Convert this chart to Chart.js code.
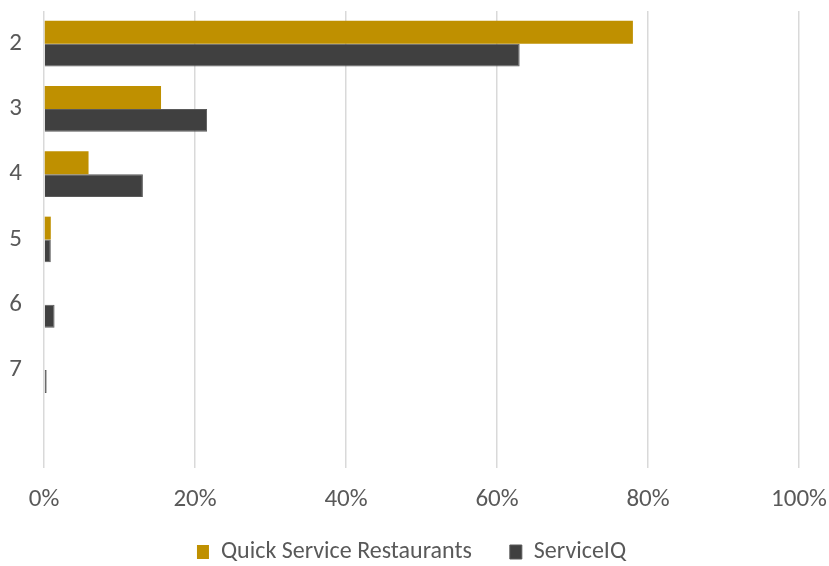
<!DOCTYPE html>
<html>
<head>
<meta charset="utf-8">
<script src="https://cdn.jsdelivr.net/npm/chart.js@4"></script>
<style>
  html, body { margin: 0; padding: 0; background: #fff; overflow: hidden; }
  canvas { display: block; }
</style>
</head>
<body>
<canvas id="sizeChart" width="829" height="566"></canvas>
<script>
// Share of responses by group size
const categories = ['2', '3', '4', '5', '6', '7', ''];
const qsrValues = [78, 15.5, 5.9, 0.9, 0, 0, null];
const serviceIqValues = [63, 21.6, 13.1, 0.9, 1.4, 0.35, null];
const xTicks = [0, 20, 40, 60, 80, 100];

const font = "'Carlito', 'Liberation Sans Narrow', 'Liberation Sans', sans-serif";
const grey = '#595959';

// legend: wide gap between items but a short box at the bottom
const legendFit = {
    id: 'legendFit',
    beforeInit(chart) {
        const fit = chart.legend.fit;
        chart.legend.fit = function () {
            fit.bind(chart.legend)();
            this.height = 28;
        };
    },
    afterLayout(chart) {
        // items are drawn at top + padding, so pull the box up
        chart.legend.top = 552 - 38 - 12;
        chart.legend.left += 12;
        chart.legend.right += 12;
    }
};

const ctx = document.getElementById('sizeChart').getContext('2d');
const sizeChart = new Chart(ctx, {
    type: 'bar',
    data: {
        labels: categories,
        datasets: [{
            label: 'Quick Service Restaurants',
            data: qsrValues,
            backgroundColor: '#BF9000',
            borderWidth: 0
        }, {
            label: 'ServiceIQ',
            data: serviceIqValues,
            backgroundColor: '#404040',
            borderColor: '#5a5a5a',
            borderWidth: 1
        }]
    },
    options: {
        indexAxis: 'y',
        responsive: false,
        animation: false,
        devicePixelRatio: 1,
        layout: { padding: { top: 11, right: 30, bottom: 0, left: 0 } },
        datasets: {
            bar: { categoryPercentage: 0.7, barPercentage: 1 }
        },
        scales: {
            x: {
                min: 0,
                max: 100,
                afterBuildTicks: axis => { axis.ticks = xTicks.map(v => ({ value: v })); },
                afterFit: axis => {
                    axis.height = 70;
                    axis.paddingLeft = 0;
                    axis.paddingRight = 0;
                },
                grid: { color: '#d9d9d9', lineWidth: 1.5, drawTicks: false },
                border: { display: false },
                ticks: {
                    padding: 17,
                    color: grey,
                    font: { family: font, size: 25 },
                    callback: v => v + '%'
                }
            },
            y: {
                grid: { display: false, drawTicks: false },
                border: { display: false },
                afterFit: axis => {
                    axis.width = 44;
                    axis.paddingTop = 0;
                    axis.paddingBottom = 0;
                },
                ticks: {
                    padding: 22,
                    color: grey,
                    font: { family: font, size: 25 }
                }
            }
        },
        plugins: {
            legend: {
                position: 'bottom',
                labels: {
                    color: grey,
                    font: { family: font, size: 24 },
                    boxWidth: 12,
                    boxHeight: 14,
                    padding: 38
                }
            },
            tooltip: { enabled: false }
        }
    },
    plugins: [legendFit]
});
</script>
</body>
</html>
